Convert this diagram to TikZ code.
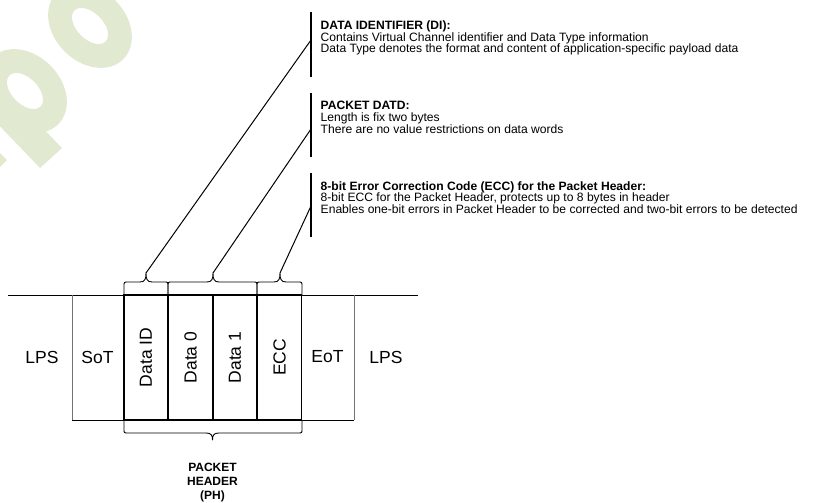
\documentclass[tikz,border=0pt]{standalone}
\usepackage{fontspec}
\setmainfont{Liberation Sans}
\definecolor{wmgreen}{RGB}{225,234,208}
\begin{document}
\begin{tikzpicture}[x=1pt,y=-1pt,
  lbl/.style={font=\fontsize{17.5}{20}\selectfont, inner sep=0pt},
  rlbl/.style={lbl, rotate=90},
  fieldbox/.style={draw=black, line width=1.2pt, minimum width=44pt, minimum height=125pt, inner sep=0pt},
  grayline/.style={draw=black!55, line width=0.8pt},
  mainline/.style={draw=black, line width=1pt},
  bracepath/.style={draw=black, line width=0.9pt, line join=round},
  leader/.style={draw=black, line width=1pt},
  bar/.style={draw=black, line width=1.6pt},
  desc/.style={anchor=base west, inner sep=0pt, font=\fontsize{12.1}{12}\selectfont},
  desctitle/.style={anchor=base west, inner sep=0pt, font=\fontsize{12.1}{12}\selectfont\bfseries},
  phlbl/.style={anchor=base, inner sep=0pt, font=\fontsize{12}{12}\selectfont\bfseries},
]
\useasboundingbox (0,0) rectangle (815,503);
% watermark
\begin{scope}
  \clip (0,0) rectangle (815,503);
  \begin{scope}[shift={(90,26)}, rotate=-45]
    \fill[wmgreen, even odd rule] (0,0) ellipse [x radius=47pt, y radius=36pt]
                                  (0,0) ellipse [x radius=22pt, y radius=13pt];
  \end{scope}
  \fill[wmgreen] (37,122) -- (62,148) -- (40,168) -- (-10,116) -- (10,100) -- cycle;
  \begin{scope}[shift={(25,91)}, rotate=-45]
    \fill[white] (0,0) ellipse [x radius=22pt, y radius=13pt];
  \end{scope}
  \begin{scope}[shift={(25,91)}, rotate=-45]
    \fill[wmgreen, even odd rule] (0,0) ellipse [x radius=47pt, y radius=36pt]
                                  (0,0) ellipse [x radius=22pt, y radius=13pt];
  \end{scope}
  \fill[wmgreen] (0,153) -- (7,160) -- (0,167) -- cycle;
\end{scope}

% horizontal lines
\coordinate (tl) at (8,295);
\coordinate (tr) at (418,295);
\coordinate (bl) at (72,420);
\coordinate (br) at (354,420);
\draw[mainline] (tl) -- (tr);
\draw[mainline] (bl) -- (br);
\coordinate (sotT) at (72,295);
\coordinate (eotT) at (354,295);
\draw[grayline] (sotT) -- (bl);
\draw[grayline] (eotT) -- (br);

% field boxes
\node[fieldbox] (did) at (146,357.5) {};
\node[fieldbox] (d0) at (190.5,357.5) {};
\node[fieldbox] (d1) at (235,357.5) {};
\node[fieldbox] (ecc) at (279.5,357.5) {};
\node[rlbl] (tdid) at (did.center) {Data ID};
\node[rlbl] (td0) at (d0.center) {Data 0};
\node[rlbl] (td1) at (d1.center) {Data 1};
\node[rlbl] (tecc) at (ecc.center) {ECC};

\node[lbl] (lps1) at (42,357) {LPS};
\node[lbl] (sot) at (97.5,357) {SoT};
\node[lbl] (eot) at (327.5,357) {EoT};
\node[lbl] (lps2) at (386,357) {LPS};

% top braces
\draw[bracepath] (124,295) -- (124,286) .. controls (124,282) .. (128,282) -- (140,282)
  .. controls (145,282) and (146,279) .. (146,273) .. controls (146,279) and (147,282) .. (152,282)
  -- (164,282) .. controls (168,282) .. (168,286) -- (168,295);
\draw[bracepath] (168,295) -- (168,286) .. controls (168,282) .. (172,282) -- (207,282)
  .. controls (212,282) and (213,279) .. (213,273) .. controls (213,279) and (214,282) .. (219,282)
  -- (253,282) .. controls (257,282) .. (257,286) -- (257,295);
\draw[bracepath] (257,295) -- (257,286) .. controls (257,282) .. (261,282) -- (274,282)
  .. controls (279,282) and (280,279) .. (280,273) .. controls (280,279) and (281,282) .. (286,282)
  -- (298,282) .. controls (302,282) .. (302,286) -- (302,295);
\coordinate (tip1) at (146,273);
\coordinate (tip2) at (213,273);
\coordinate (tip3) at (280,273);

% bottom brace
\draw[bracepath] (124,420) -- (124,429) .. controls (124,433) .. (128,433) -- (206,433)
  .. controls (211,433) and (212.5,435) .. (212.5,440) .. controls (212.5,435) and (214,433) .. (219,433)
  -- (298,433) .. controls (302,433) .. (302,429) -- (302,420);

\node[phlbl] (ph1) at (212.5,471) {PACKET};
\node[phlbl] (ph2) at (212.5,485) {HEADER};
\node[phlbl] (ph3) at (212.5,499) {(PH)};

% bars
\coordinate (b1t) at (311,12);  \coordinate (b1b) at (311,77);
\coordinate (b2t) at (311,93);  \coordinate (b2b) at (311,157);
\coordinate (b3t) at (311,173); \coordinate (b3b) at (311,237);
\draw[bar] (b1t) -- (b1b);
\draw[bar] (b2t) -- (b2b);
\draw[bar] (b3t) -- (b3b);
\coordinate (e1) at (311,40);
\coordinate (e2) at (311,129);
\coordinate (e3) at (311,206);
\draw[leader] (tip1) -- (e1);
\draw[leader] (tip2) -- (e2);
\draw[leader] (tip3) -- (e3);

% descriptions
\node[desctitle] (t1a) at (320.5,29.5) {DATA IDENTIFIER (DI):};
\node[desc] (t1b) at (320.5,41.5) {Contains Virtual Channel identifier and Data Type information};
\node[desc] (t1c) at (320.5,53) {Data Type denotes the format and content of application-specific payload data};

\node[desctitle] (t2a) at (320.5,110) {PACKET DATD:};
\node[desc] (t2b) at (320.5,121.5) {Length is fix two bytes};
\node[desc] (t2c) at (320.5,133) {There are no value restrictions on data words};

\node[desctitle] (t3a) at (320.5,190) {8-bit Error Correction Code (ECC) for the Packet Header:};
\node[desc] (t3b) at (320.5,201.5) {8-bit ECC for the Packet Header, protects up to 8 bytes in header};
\node[desc] (t3c) at (320.5,213) {Enables one-bit errors in Packet Header to be corrected and two-bit errors to be detected};
\end{tikzpicture}
\end{document}
